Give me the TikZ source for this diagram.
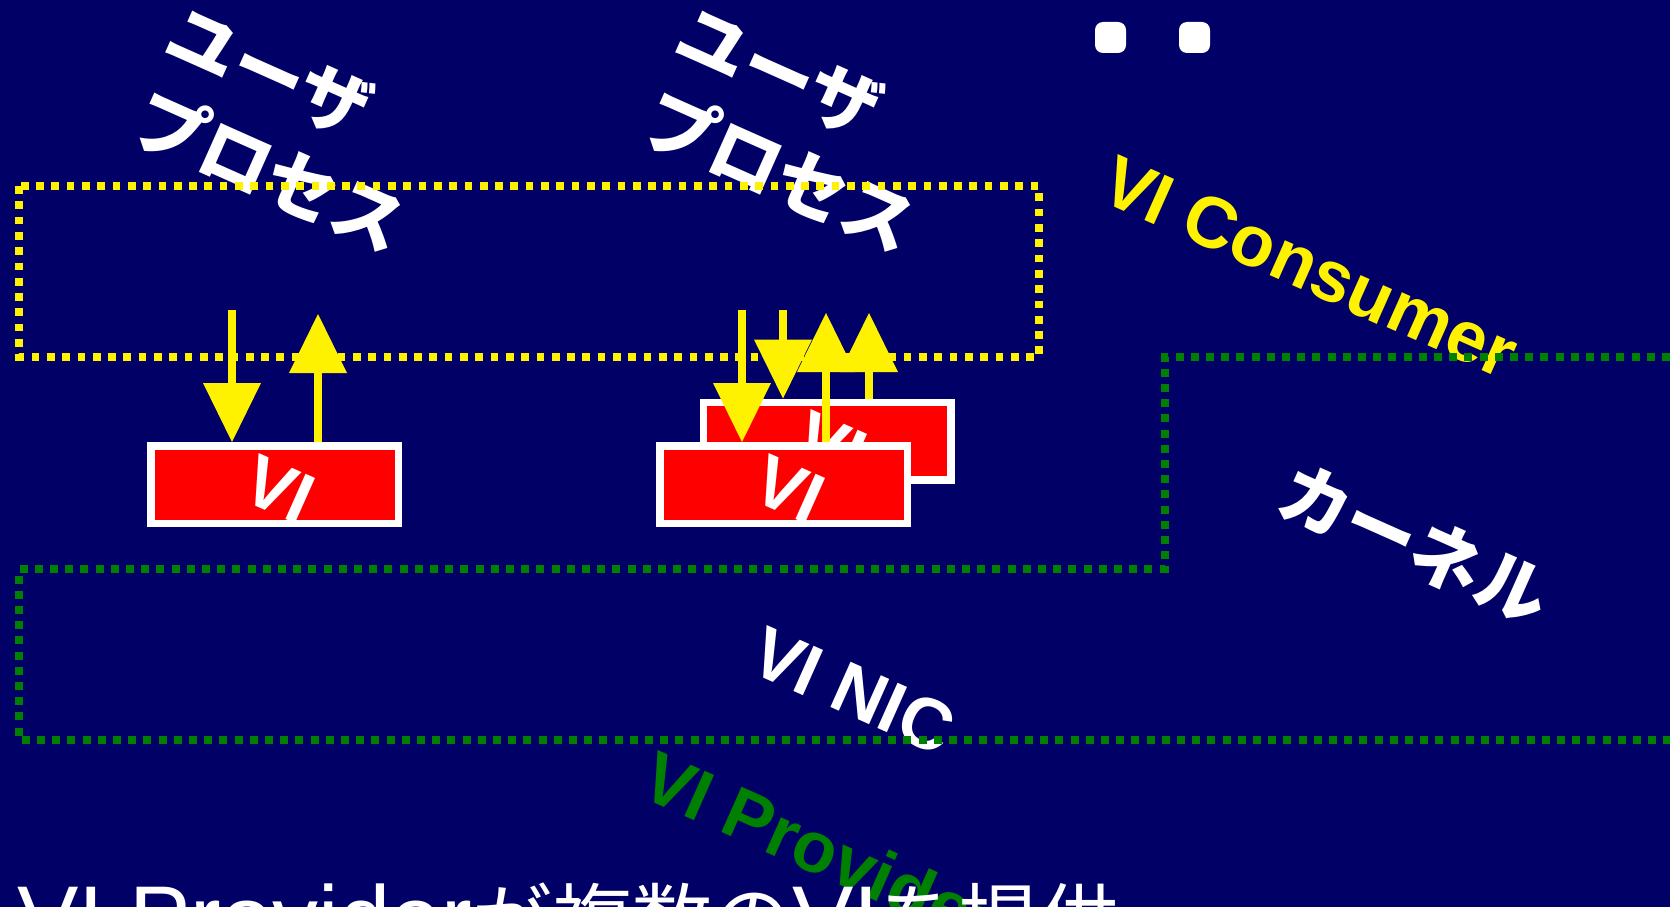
\documentclass[tikz,border=0pt]{standalone}
\usepackage{fontspec}
\setmainfont{Liberation Sans}
\newfontfamily\jp{Noto Sans CJK JP}
\usetikzlibrary{arrows.meta}
\definecolor{navy}{RGB}{0,0,102}
\definecolor{pgreen}{RGB}{0,128,0}
\tikzset{
  lbl/.style={rotate=-24, anchor=base west, inner sep=0pt, outer sep=0pt},
  jplbl/.style={lbl, text=white, font=\jp\bfseries\fontsize{72pt}{80pt}\selectfont},
  enlbl/.style={lbl, font=\bfseries\fontsize{72pt}{80pt}\selectfont},
  vibox/.style={draw=white, fill=red, line width=7.5pt, minimum width=247.5pt, minimum height=77.5pt, inner sep=0pt},
  yarrow/.style={draw=yellow, line width=8pt, -{Triangle[length=59pt,width=58pt,line width=0pt]}},
  ydots/.style={draw=yellow, line width=8pt, dash pattern=on 7.7pt off 7.6pt},
  gdots/.style={draw=pgreen, line width=8pt, dash pattern=on 8pt off 7.2pt},
  dotsq/.style={fill=white, rounded corners=8pt, minimum size=31pt, inner sep=0pt},
}
\begin{document}
\begin{tikzpicture}[x=1pt,y=-1pt]
\useasboundingbox (0,0) rectangle (1670,907);
\fill[navy] (0,0) rectangle (1670,907);
\clip (0,0) rectangle (1670,907);

% rotated labels
\node[jplbl] (up1a) at (160,53) {ユーザ};
\node[jplbl] (up1b) at (127,138) {プロセス};
\node[jplbl] (up2a) at (670,53) {ユーザ};
\node[jplbl] (up2b) at (637,138) {プロセス};
\node[enlbl, text=yellow] (cons) at (1097,199) {VI Consumer};
\node[jplbl] (kern) at (1272,510) {カーネル};
\node[enlbl, text=white] (nic) at (746,670) {VI NIC};
\node[enlbl, text=pgreen] (prov) at (637,795) {VI Provider};

% dots at top
\node[dotsq] (d1) at (1110.5,37.5) {};
\node[dotsq] (d2) at (1194.5,37.5) {};

% dotted regions
\draw[ydots] (19,186) rectangle (1038.5,357);
\draw[gdots] (1670,357) -- (1165,357) -- (1165,569) -- (19,569) -- (19,740) -- (1670,740);

% VI boxes
\node[vibox] (box2) at (827,441) {};
\node[enlbl, text=white] (vi2) at (790,454) {VI};
\node[vibox] (box3) at (783.5,484.5) {};
\node[enlbl, text=white] (vi3) at (748,498) {VI};
\node[vibox] (box1) at (274.5,484.5) {};
\node[enlbl, text=white] (vi1) at (238,498) {VI};

% arrows
\coordinate (a1) at (232,310);
\coordinate (u1) at (318,314);
\coordinate (aA) at (742,310);
\coordinate (aB) at (783,310);
\coordinate (uC) at (826,313);
\coordinate (uD) at (869,313);
\draw[yarrow] (a1) -- (a1 |- box1.north);
\draw[yarrow] (u1 |- box1.north) -- (u1);
\draw[yarrow] (aB) -- (aB |- box2.north);
\draw[yarrow] (uD |- box2.north) -- (uD);
\draw[yarrow] (aA) -- (aA |- box3.north);
\draw[yarrow] (uC |- box3.north) -- (uC);

% bottom caption
\node[anchor=base west, inner sep=0pt, text=white] (cap) at (17,950)
  {\fontsize{92pt}{100pt}\selectfont VI Provider{\jp\fontsize{80pt}{90pt}\selectfont が複数の}VI{\jp\fontsize{80pt}{90pt}\selectfont を提供}};
\end{tikzpicture}
\end{document}
